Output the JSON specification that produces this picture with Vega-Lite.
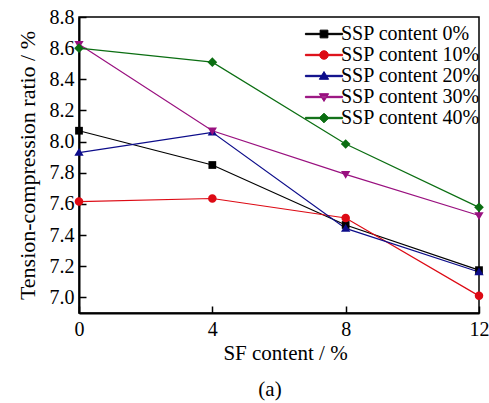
{
  "$schema": "https://vega.github.io/schema/vega-lite/v6.json",
  "width": 400,
  "height": 296,
  "autosize": "none",
  "padding": {"left": 79, "top": 17, "right": 10, "bottom": 90},
  "background": "white",
  "config": {
    "font": "Liberation Serif, Times New Roman, serif",
    "view": {"stroke": "black", "strokeWidth": 1.5},
    "axis": {
      "grid": false,
      "domainColor": "black",
      "domainWidth": 2,
      "tickColor": "black",
      "tickWidth": 1.5,
      "tickSize": -7,
      "labelColor": "black",
      "labelFontSize": 20,
      "labelFont": "Liberation Serif, Times New Roman, serif",
      "titleColor": "black",
      "titleFont": "Liberation Serif, Times New Roman, serif",
      "titleFontSize": 21,
      "titleFontWeight": "normal",
      "labelFlush": false,
      "labelOverlap": false
    },
    "legend": {
      "labelFont": "Liberation Serif, Times New Roman, serif",
      "labelColor": "black",
      "labelFontSize": 20
    },
    "title": {"font": "Liberation Serif, Times New Roman, serif", "color": "black", "fontWeight": "normal"}
  },
  "title": {"text": "(a)", "orient": "bottom", "fontSize": 21, "offset": 16, "dx": -9},
  "data": {
    "values": [
      {"series": "SSP content 0%", "sf": 0, "ratio": 8.07},
      {"series": "SSP content 0%", "sf": 4, "ratio": 7.85},
      {"series": "SSP content 0%", "sf": 8, "ratio": 7.465},
      {"series": "SSP content 0%", "sf": 12, "ratio": 7.175},
      {"series": "SSP content 10%", "sf": 0, "ratio": 7.615},
      {"series": "SSP content 10%", "sf": 4, "ratio": 7.635},
      {"series": "SSP content 10%", "sf": 8, "ratio": 7.51},
      {"series": "SSP content 10%", "sf": 12, "ratio": 7.01},
      {"series": "SSP content 20%", "sf": 0, "ratio": 7.93},
      {"series": "SSP content 20%", "sf": 4, "ratio": 8.06},
      {"series": "SSP content 20%", "sf": 8, "ratio": 7.443},
      {"series": "SSP content 20%", "sf": 12, "ratio": 7.163},
      {"series": "SSP content 30%", "sf": 0, "ratio": 8.625},
      {"series": "SSP content 30%", "sf": 4, "ratio": 8.07},
      {"series": "SSP content 30%", "sf": 8, "ratio": 7.79},
      {"series": "SSP content 30%", "sf": 12, "ratio": 7.526},
      {"series": "SSP content 40%", "sf": 0, "ratio": 8.60},
      {"series": "SSP content 40%", "sf": 4, "ratio": 8.51},
      {"series": "SSP content 40%", "sf": 8, "ratio": 7.985},
      {"series": "SSP content 40%", "sf": 12, "ratio": 7.578}
    ]
  },
  "encoding": {
    "x": {
      "field": "sf",
      "type": "quantitative",
      "scale": {"domain": [0, 12], "nice": false, "zero": false},
      "axis": {"values": [0, 4, 8, 12], "title": "SF content / %", "labelPadding": 13, "titlePadding": 3, "titleX": 206}
    },
    "y": {
      "field": "ratio",
      "type": "quantitative",
      "scale": {"domain": [6.9, 8.8], "nice": false, "zero": false},
      "axis": {
        "values": [7.0, 7.2, 7.4, 7.6, 7.8, 8.0, 8.2, 8.4, 8.6, 8.8],
        "format": ".1f",
        "title": "Tension-compression ratio / %",
        "titleFontSize": 22,
        "labelPadding": 12,
        "titlePadding": 10
      }
    },
    "color": {
      "field": "series",
      "type": "nominal",
      "scale": {
        "domain": ["SSP content 0%", "SSP content 10%", "SSP content 20%", "SSP content 30%", "SSP content 40%"],
        "range": ["#000000", "#dd0a14", "#0c0c8a", "#99107f", "#0b6e12"]
      },
      "legend": {
        "title": null,
        "orient": "none",
        "legendX": 235,
        "legendY": 7,
        "labelOffset": 7,
        "symbolSize": 60,
        "symbolStrokeWidth": 1,
        "symbolType": {"expr": "'M-4.8,-0.17H4.8V0.17H-4.8Z' + (datum.value == 'SSP content 0%' ? 'M-1,-1H1V1H-1Z' : datum.value == 'SSP content 10%' ? 'M1.1,0A1.1,1.1,0,1,1,-1.1,0A1.1,1.1,0,1,1,1.1,0Z' : datum.value == 'SSP content 20%' ? 'M0,-1.15L1.2,0.85H-1.2Z' : datum.value == 'SSP content 30%' ? 'M0,1.15L1.2,-0.85H-1.2Z' : 'M0,-1.25L1.25,0L0,1.25L-1.25,0Z')"},
        "rowPadding": 1,
        "labelLimit": 300
      }
    }
  },
  "layer": [
    {
      "mark": {"type": "line", "strokeWidth": 1.2}
    },
    {
      "transform": [{"filter": "datum.series == 'SSP content 0%'"}],
      "mark": {"type": "point", "filled": true, "size": 60, "opacity": 1},
      "encoding": {"shape": {"value": "M-1,-1H1V1H-1Z"}}
    },
    {
      "transform": [{"filter": "datum.series == 'SSP content 10%'"}],
      "mark": {"type": "point", "filled": true, "size": 60, "opacity": 1},
      "encoding": {"shape": {"value": "M1.1,0A1.1,1.1,0,1,1,-1.1,0A1.1,1.1,0,1,1,1.1,0Z"}}
    },
    {
      "transform": [{"filter": "datum.series == 'SSP content 20%'"}],
      "mark": {"type": "point", "filled": true, "size": 60, "opacity": 1},
      "encoding": {"shape": {"value": "M0,-1.15L1.2,0.85H-1.2Z"}}
    },
    {
      "transform": [{"filter": "datum.series == 'SSP content 30%'"}],
      "mark": {"type": "point", "filled": true, "size": 60, "opacity": 1},
      "encoding": {"shape": {"value": "M0,1.15L1.2,-0.85H-1.2Z"}}
    },
    {
      "transform": [{"filter": "datum.series == 'SSP content 40%'"}],
      "mark": {"type": "point", "filled": true, "size": 60, "opacity": 1},
      "encoding": {"shape": {"value": "M0,-1.25L1.25,0L0,1.25L-1.25,0Z"}}
    }
  ]
}
